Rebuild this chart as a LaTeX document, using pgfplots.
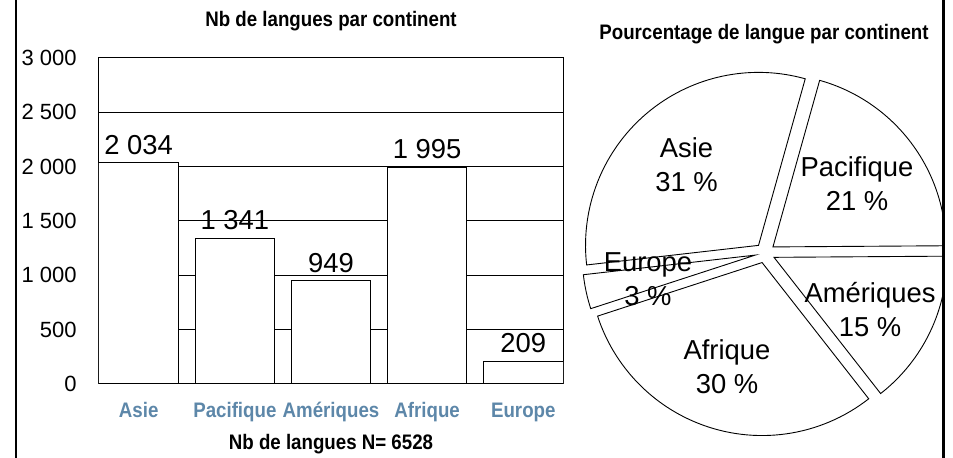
\documentclass[border=0pt]{standalone}
\usepackage{fontspec}
\setmainfont{Liberation Sans}
\newfontfamily\narrowbf[FakeStretch=0.89]{Liberation Sans}
\usepackage{pgfplots}
\pgfplotsset{compat=1.18}
\definecolor{catblue}{HTML}{5D87A9}

\newcommand\labfont{\fontsize{13.7}{17}\selectfont}
\newcommand\titfont{\narrowbf\bfseries\fontsize{10.5}{12}\selectfont}

% one exploded pie slice, from angle #1 clockwise to angle #2
\newcommand\pieslice[2]{%
  \pgfmathsetmacro\midang{(#1+#2)/2}%
  \edef\temp{\noexpand\draw[fill=white, line width=0.45pt]
    ([shift={(\midang:5pt)}]axis cs:765,205) -- ++(#1:86.5pt)
    arc[start angle=#1, end angle=#2, radius=86.5pt] -- cycle;}%
  \temp}

\begin{document}
\begin{tikzpicture}
\useasboundingbox (0,0) rectangle (476.5pt,229pt);

% bar chart
\begin{axis}[
  at={(49.5pt,37pt)}, anchor=south west,
  scale only axis, width=232pt, height=163pt,
  xmin=-0.413, xmax=4.413, ymin=0, ymax=3000,
  enlargelimits=false,
  ybar, bar width=0.826,
  xtick={0,...,4},
  xticklabels={Asie,Pacifique,Amériques,Afrique,Europe},
  ytick={0,500,...,3000},
  major tick length=0pt,
  ymajorgrids, grid style={black, line width=0.5pt},
  axis line style={black, line width=0.5pt},
  /pgf/number format/1000 sep={\ },
  /pgf/number format/assume math mode=true,
  yticklabel style={font=\fontsize{11}{13}\selectfont, anchor=east, inner sep=0pt, xshift=-11pt},
  xticklabel style={font=\titfont, text=catblue, anchor=base, inner sep=0pt, yshift=-17pt},
  nodes near coords,
  every node near coord/.append style={font=\labfont, inner sep=0pt, anchor=south, yshift=4pt},
]
\addplot[fill=white, draw=black, line width=0.5pt]
  coordinates {(0,2034) (1,1341) (2,949) (3,1995) (4,209)};
\end{axis}

% pie chart, counts in the same order as the bars
\begin{axis}[
  at={(285pt,6.5pt)}, anchor=south west,
  scale only axis, width=186pt, height=192.5pt,
  xmin=570, xmax=942, ymin=13, ymax=398,
  hide axis, clip=true,
]
\xdef\cur{186.5}
\foreach \n in {2034,1341,949,1995,209}{%
  \pgfmathsetmacro\nxt{\cur-\n/6528*360}%
  \pieslice{\cur}{\nxt}%
  \xdef\cur{\nxt}%
}
\node[font=\labfont, align=center] at (axis cs:686.5,293.5) {Asie\\31 \%};
\node[font=\labfont, align=center] at (axis cs:857,274.5) {Pacifique\\21 \%};
\node[font=\labfont, align=center] at (axis cs:870,148) {Amériques\\15 \%};
\node[font=\labfont, align=center] at (axis cs:727,91.5) {Afrique\\30 \%};
\node[font=\labfont, align=center] at (axis cs:648,179) {Europe\\3 \%};
\end{axis}

\node[font=\titfont, anchor=base] at (165.5pt,215.65pt) {Nb de langues par continent};
\node[font=\titfont, anchor=base] at (382pt,209.25pt) {Pourcentage de langue par continent};
\node[font=\titfont, anchor=base] at (165.5pt,4pt) {Nb de langues N= 6528};

\draw[line width=1.25pt] (8pt,0) -- (8pt,229pt);
\draw[line width=1.25pt] (471.65pt,0) -- (471.65pt,229pt);
\end{tikzpicture}
\end{document}
